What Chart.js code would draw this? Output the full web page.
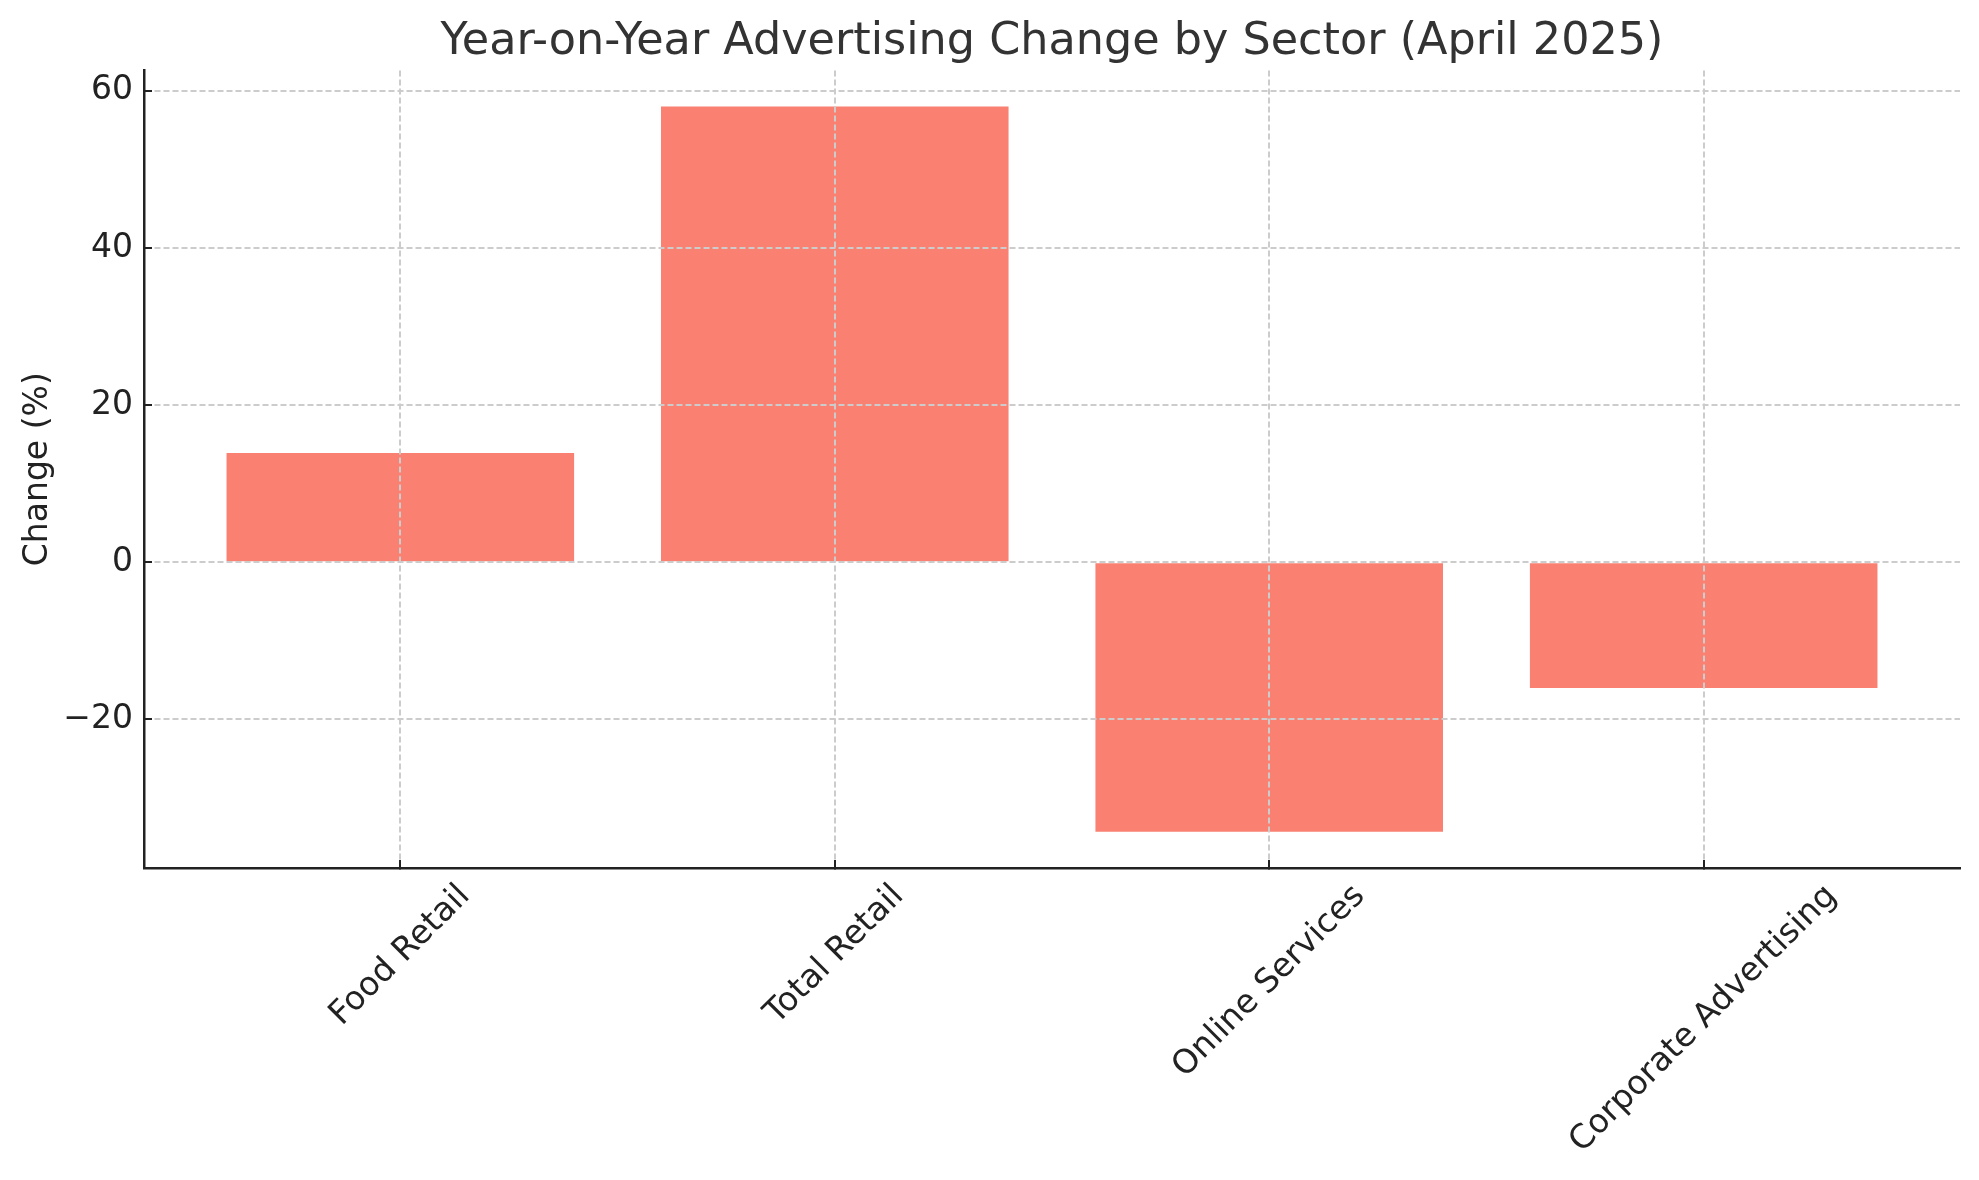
<!DOCTYPE html>
<html>
<head>
<meta charset="utf-8">
<script src="https://cdn.jsdelivr.net/npm/chart.js@4.4.1/dist/chart.umd.min.js"></script>
<style>
  html, body { margin: 0; padding: 0; background: #fff; }
  canvas { display: block; }
</style>
</head>
<body>
<canvas id="sector_chart" width="1979" height="1180" style="width:1979px;height:1180px"></canvas>
<script>
const sectors = ['Food Retail', 'Total Retail', 'Online Services', 'Corporate Advertising'];
const changes = [13.9, 58.0, -34.3, -16.0];
const yTicks = [-20, 0, 20, 40, 60];

/* matplotlib style: rotated labels centred under their tick */
const centreRotatedLabels = {
    id: 'centreRotatedLabels',
    beforeDraw(chart) {
        const scale = chart.scales.x;
        const ctx = chart.ctx;
        scale.getLabelItems().forEach(item => {
            if (item._moved) return;
            ctx.save();
            ctx.font = item.font.string;
            const w = ctx.measureText(item.label).width;
            ctx.restore();
            item.options.translation[0] += w * Math.SQRT1_2 / 2;
            item._moved = true;
        });
    }
};

const ctx = document.getElementById('sector_chart').getContext('2d');

new Chart(ctx, {
    type: 'bar',
    data: {
        datasets: [{
            label: 'Change (%)',
            data: sectors.map((s, i) => ({ x: i, y: changes[i] })),
            backgroundColor: '#FA8072',
            borderWidth: 0,
            categoryPercentage: 1,
            barPercentage: 0.8
        }]
    },
    options: {
        responsive: false,
        devicePixelRatio: 1,
        animation: false,
        layout: { padding: { left: 0, right: 19, top: 0, bottom: 0 } },
        plugins: {
            legend: { display: false },
            tooltip: { enabled: false },
            title: {
                display: true,
                text: 'Year-on-Year Advertising Change by Sector (April 2025)',
                fullSize: false,
                color: '#333333',
                font: { family: 'DejaVu Sans', size: 44.5, weight: 'normal', lineHeight: 1.2 },
                padding: { top: 16, bottom: 1 }
            }
        },
        scales: {
            x: {
                type: 'linear',
                offset: false,
                min: -0.59,
                max: 3.59,
                afterBuildTicks: s => { s.ticks = sectors.map((c, i) => ({ value: i })); },
                afterFit: s => { s.height = 312; },
                ticks: {
                    autoSkip: false,
                    minRotation: 45,
                    maxRotation: 45,
                    padding: 17,
                    color: '#222222',
                    font: { family: 'DejaVu Sans', size: 33 },
                    callback: v => sectors[v]
                },
                grid: {
                    z: 1,
                    offset: false,
                    color: '#cccccc',
                    lineWidth: 2,
                    tickLength: -8,
                    tickColor: '#222222',
                    tickWidth: 2
                },
                border: { display: true, z: 1, color: '#222222', width: 2.5, dash: [6, 3] }
            },
            y: {
                min: -38.9,
                max: 62.6,
                afterBuildTicks: s => { s.ticks = yTicks.map(v => ({ value: v })); },
                afterFit: s => { s.width = 144; },
                ticks: {
                    padding: 19,
                    color: '#222222',
                    font: { family: 'DejaVu Sans', size: 33 },
                    callback: v => v < 0 ? '\u2212' + Math.abs(v) : String(v)
                },
                grid: {
                    z: 1,
                    color: '#cccccc',
                    lineWidth: 2,
                    tickLength: -8,
                    tickColor: '#222222',
                    tickWidth: 2
                },
                border: { display: true, z: 1, color: '#222222', width: 2.5, dash: [6, 3] },
                title: {
                    display: true,
                    text: 'Change (%)',
                    color: '#222222',
                    font: { family: 'DejaVu Sans', size: 33, lineHeight: 1.2 },
                    padding: { top: 19, bottom: 0 }
                }
            }
        }
    },
    plugins: [centreRotatedLabels]
});
</script>
</body>
</html>
